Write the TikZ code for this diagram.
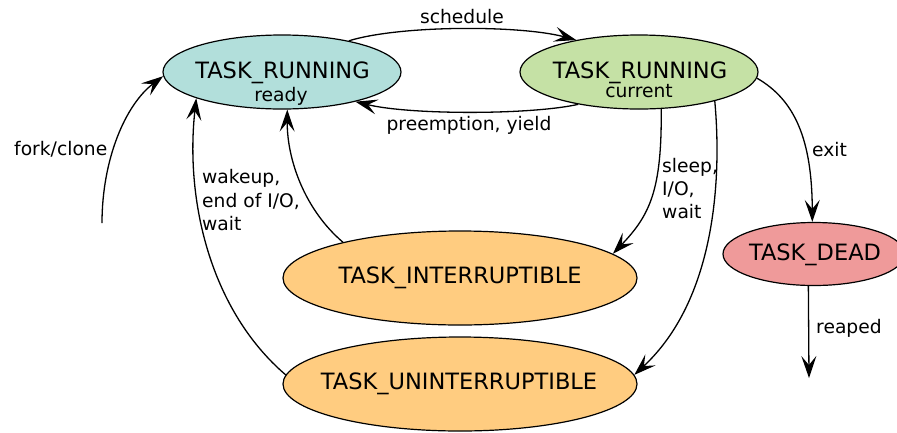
\documentclass[tikz,border=0pt]{standalone}
\usepackage{fontspec}
\setmainfont{DejaVu Sans}
\usetikzlibrary{arrows.meta,shapes.geometric}
\definecolor{readyc}{HTML}{B2DFDB}
\definecolor{currc}{HTML}{C5E1A5}
\definecolor{deadc}{HTML}{EF9A9A}
\definecolor{waitc}{HTML}{FFCC80}
\begin{document}
\begin{tikzpicture}[x=1pt,y=-1pt,
  stateshape/.style={ellipse,draw=black,line width=1.2pt,inner sep=0pt},
  big/.style={inner sep=0pt,anchor=base,font=\fontsize{22.5}{26}\selectfont},
  small/.style={inner sep=0pt,anchor=base,font=\fontsize{18.7}{22}\selectfont},
  lbl/.style={inner sep=0pt,anchor=base west,font=\fontsize{18.7}{22}\selectfont},
  conn/.style={line width=1.3pt,-{Stealth[length=22pt,width=15pt,inset=9pt]}}]
\useasboundingbox (0,0) rectangle (897,432);
% states
\node[stateshape,fill=readyc,minimum width=238pt,minimum height=74pt] (ready) at (282,72) {};
\node[stateshape,fill=currc,minimum width=238pt,minimum height=74pt] (curr) at (639,72) {};
\node[stateshape,fill=deadc,minimum width=182pt,minimum height=63pt] (dead) at (814,254) {};
\node[stateshape,fill=waitc,minimum width=354pt,minimum height=94pt] (intr) at (460,278) {};
\node[stateshape,fill=waitc,minimum width=354pt,minimum height=94pt] (unint) at (460,384) {};
% state texts
\node[big] (readyT) at (282.5,78) {TASK\_RUNNING};
\node[small] (readyS) at (281,101) {ready};
\node[big] (currT) at (640,78) {TASK\_RUNNING};
\node[small] (currS) at (639,97) {current};
\node[big] (deadT) at (815,260) {TASK\_DEAD};
\node[big] (intrT) at (460,283) {TASK\_INTERRUPTIBLE};
\node[big] (unintT) at (459,389) {TASK\_UNINTERRUPTIBLE};
% free ends
\coordinate (forkstart) at (102,223);
\coordinate (reapend) at (809,378);
% connectors
\draw[conn] (ready.25) .. controls (400,25) and (520,25) .. (curr.153);
\draw[conn] (curr.208) .. controls (530,115) and (410,115) .. (ready.-22);
\draw[conn] (forkstart) .. controls (102,160) and (125,105) .. (ready.182);
\draw[conn] (unint.177) .. controls (210,310) and (185,200) .. (ready.197);
\draw[conn] (intr.163) .. controls (305,210) and (287,160) .. (ready.278);
\draw[conn] (curr.301) .. controls (662,190) and (650,215) .. (intr.9);
\draw[conn] (curr.-21) .. controls (722,180) and (715,300) .. (unint.3);
\draw[conn] (curr.-3) .. controls (795,100) and (812,140) .. (dead.93);
\draw[conn] (dead.260) -- (reapend);
% labels
\node[small] (lsched) at (462,23) {schedule};
\node[small] (lpre) at (469,130) {preemption, yield};
\node[lbl] (lfork) at (14,155) {fork/clone};
\node[lbl] (lwk1) at (202,183) {wakeup,};
\node[lbl] (lwk2) at (202,207) {end of I/O,};
\node[lbl] (lwk3) at (202,230) {wait};
\node[lbl] (lsl1) at (662,172) {sleep,};
\node[lbl] (lsl2) at (662,195) {I/O,};
\node[lbl] (lsl3) at (662,218) {wait};
\node[lbl] (lexit) at (812,156) {exit};
\node[lbl] (lreap) at (816,333) {reaped};
\end{tikzpicture}
\end{document}
